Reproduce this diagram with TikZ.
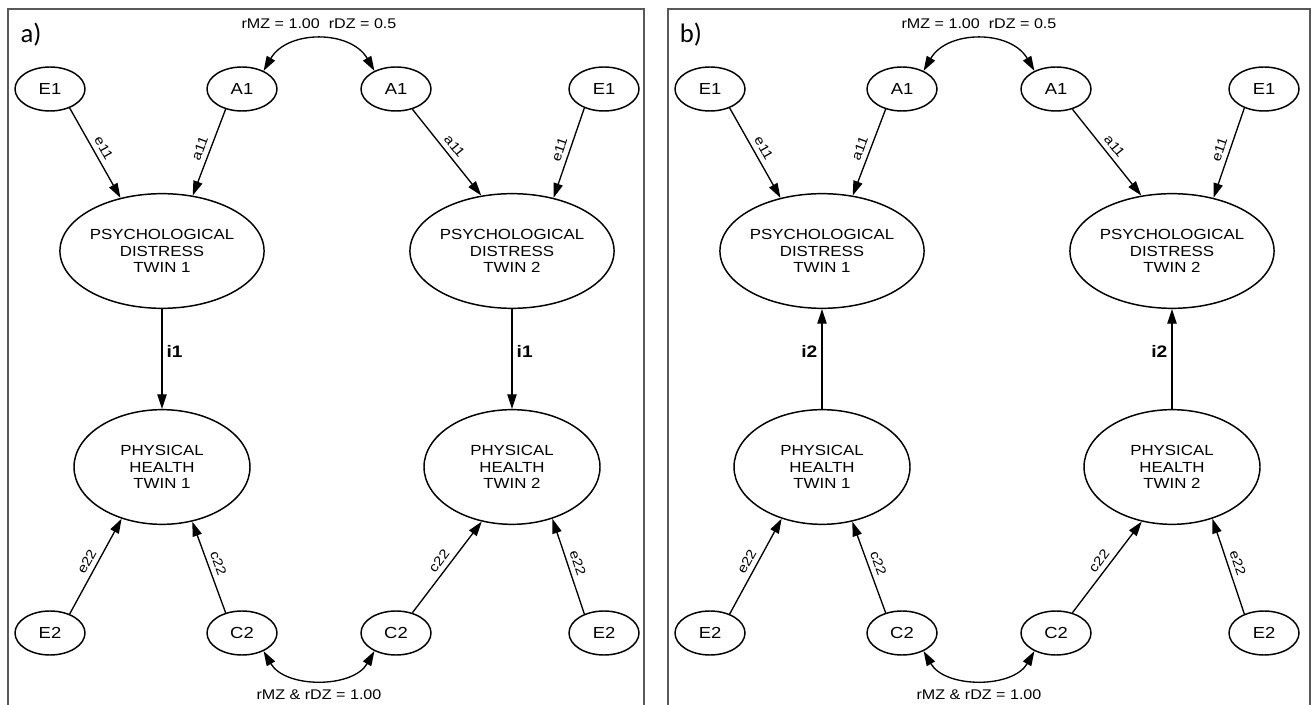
\documentclass[tikz,border=0pt]{standalone}
\usepackage{fontspec}
\setmainfont[FakeStretch=1.15]{Liberation Sans}
\newfontfamily\panelfont{Carlito}
\usetikzlibrary{arrows.meta,shapes.geometric}

\tikzset{
  smallvar/.style={ellipse, draw, line width=1.1pt, minimum width=52.5pt, minimum height=33pt,
    inner sep=0pt, font=\fontsize{12}{13}\selectfont},
  bigvar/.style={ellipse, draw, line width=1.1pt, minimum width=132pt, minimum height=86pt,
    inner sep=0pt, align=center, font=\fontsize{11}{12.4}\selectfont},
  path/.style={-{Triangle[length=11pt,width=7pt]}, line width=1pt},
  cov/.style={{Triangle[length=11pt,width=7pt]}-{Triangle[length=11pt,width=7pt]}, line width=1pt},
  plab/.style={midway, sloped, above, inner sep=3.5pt, font=\fontsize{10}{11}\selectfont},
  ilab/.style={auto, inner sep=3pt, font=\fontsize{12.5}{14}\selectfont\bfseries},
  covlab/.style={font=\fontsize{10.5}{12}\selectfont},
  frame/.style={draw=black!65, line width=1.1pt},
  panel/.style={font=\panelfont\fontsize{20}{22}\selectfont}
}

\begin{document}
\begin{tikzpicture}[x=0.75pt, y=0.75pt]
  \useasboundingbox (0,0) rectangle (1314,-705);

  \foreach \p/\dx/\rgt/\src/\dst/\ival/\ipos in {a/0/644/PD/PH/i1/0.42, b/660/650/PH/PD/i2/0.58} {
    \begin{scope}[shift={(\dx,0)}]
      \draw[frame] (8,-705) -- (8,-9) -- (\rgt,-9) -- (\rgt,-705);
      \node[panel] (lab\p) at (31,-35) {\p)};

      % latent factors
      \node[smallvar] (E1L\p) at (50,-89) {E1};
      \node[smallvar] (A1L\p) at (242,-89) {A1};
      \node[smallvar] (A1R\p) at (396,-89) {A1};
      \node[smallvar] (E1R\p) at (604,-89) {E1};
      \node[smallvar] (E2L\p) at (50,-633) {E2};
      \node[smallvar] (C2L\p) at (242,-633) {C2};
      \node[smallvar] (C2R\p) at (396,-633) {C2};
      \node[smallvar] (E2R\p) at (604,-633) {E2};

      % phenotypes
      \node[bigvar] (PD1\p) at (162,-251) {PSYCHOLOGICAL\\DISTRESS\\TWIN 1};
      \node[bigvar] (PD2\p) at (512,-251) {PSYCHOLOGICAL\\DISTRESS\\TWIN 2};
      \node[bigvar] (PH1\p) at (162,-467) {PHYSICAL\\HEALTH\\TWIN 1};
      \node[bigvar] (PH2\p) at (512,-467) {PHYSICAL\\HEALTH\\TWIN 2};

      % paths
      \draw[path] (E1L\p.-44) -- (PD1\p.128) node[plab] {e11};
      \draw[path] (A1L\p.-129) -- (PD1\p.61) node[plab] {a11};
      \draw[path] (A1R\p.-51) -- (PD2\p.119) node[plab] {a11};
      \draw[path] (E1R\p.-136) -- (PD2\p.52) node[plab] {e11};
      \draw[path] (E2L\p.44) -- (PH1\p.-128) node[plab] {e22};
      \draw[path] (C2L\p.129) -- (PH1\p.-61) node[plab] {c22};
      \draw[path] (C2R\p.51) -- (PH2\p.-119) node[plab] {c22};
      \draw[path] (E2R\p.136) -- (PH2\p.-52) node[plab] {e22};

      \draw[path] (\src1\p) -- (\dst1\p) node[ilab, pos=\ipos] {\ival};
      \draw[path] (\src2\p) -- (\dst2\p) node[ilab, pos=\ipos] {\ival};

      % correlations
      \draw[cov] (A1L\p.40) to[out=60, in=120, looseness=1.1] (A1R\p.140);
      \draw[cov] (C2L\p.-40) to[out=-60, in=-120, looseness=1.0] (C2R\p.-140);
      \node[covlab] (rA\p) at (319,-24) {rMZ = 1.00\ \ rDZ = 0.5};
      \node[covlab] (rC\p) at (319,-695) {rMZ \& rDZ = 1.00};
    \end{scope}
  }
\end{tikzpicture}
\end{document}
